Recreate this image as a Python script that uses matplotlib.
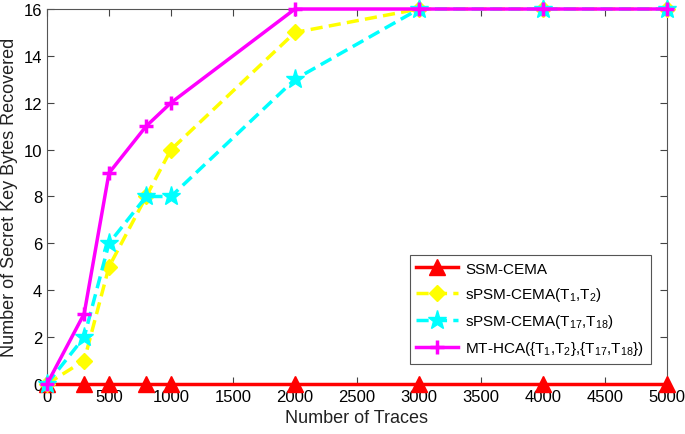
import matplotlib
matplotlib.use("Agg")
import matplotlib.pyplot as plt

plt.rcParams['font.family'] = ['Liberation Sans', 'DejaVu Sans']
plt.rcParams['mathtext.fontset'] = 'custom'
plt.rcParams['mathtext.rm'] = 'Liberation Sans'
plt.rcParams['mathtext.it'] = 'Liberation Sans'
plt.rcParams['mathtext.bf'] = 'Liberation Sans'

traces = [0, 300, 500, 800, 1000, 2000, 3000, 4000, 5000]
ssm = [0, 0, 0, 0, 0, 0, 0, 0, 0]
spsm_12 = [0, 1, 5, 8, 10, 15, 16, 16, 16]
spsm_1718 = [0, 2, 6, 8, 8, 13, 16, 16, 16]
mthca = [0, 3, 9, 11, 12, 16, 16, 16, 16]

labels = ['SSM-CEMA',
          r'sPSM-CEMA(T$_1$,T$_2$)',
          r'sPSM-CEMA(T$_{17}$,T$_{18}$)',
          r'MT-HCA({T$_1$,T$_2$},{T$_{17}$,T$_{18}$})']

fig = plt.figure(figsize=(6.85, 4.35), dpi=100)
ax = fig.add_axes([0.0686, 0.115, 0.905, 0.862])

ax.plot(traces, ssm, color='#ff0000', lw=2.5, marker='^', ms=11, label=labels[0], clip_on=False, zorder=3)
ax.plot(traces, spsm_12, color='#ffff00', lw=2.5, ls=(0, (3.5, 1.8)), marker='D', ms=8, label=labels[1], clip_on=False, zorder=4)
ax.plot(traces, spsm_1718, color='#00ffff', lw=2.5, ls=(0, (3.5, 1.8)), marker='*', ms=14, label=labels[2], clip_on=False, zorder=5)
ax.plot(traces, mthca, color='#ff00ff', lw=2.5, marker='+', ms=10, mew=2.5, label=labels[3], clip_on=False, zorder=6)

ax.set_xlim(0, 5000)
ax.set_ylim(0, 16)
ax.set_xticks(range(0, 5001, 500))
ax.set_yticks(range(0, 17, 2))
ax.tick_params(direction='in', top=True, right=True, labelsize=12, length=5, color='#444444')
for s in ax.spines.values():
    s.set_color('#555555')
    s.set_linewidth(0.8)

ax.set_xlabel('Number of Traces', fontsize=13, color='#222222')
ax.set_ylabel('Number of Secret Key Bytes Recovered', fontsize=13, color='#222222')

leg = ax.legend(loc='lower right', bbox_to_anchor=(0.974, 0.053), borderaxespad=0, fontsize=11,
                fancybox=False, edgecolor='#555555', framealpha=1, handlelength=2.7,
                handletextpad=0.5, borderpad=0.45, labelspacing=0.6)
leg.get_frame().set_linewidth(0.8)

fig.savefig('out.png', dpi=100)
